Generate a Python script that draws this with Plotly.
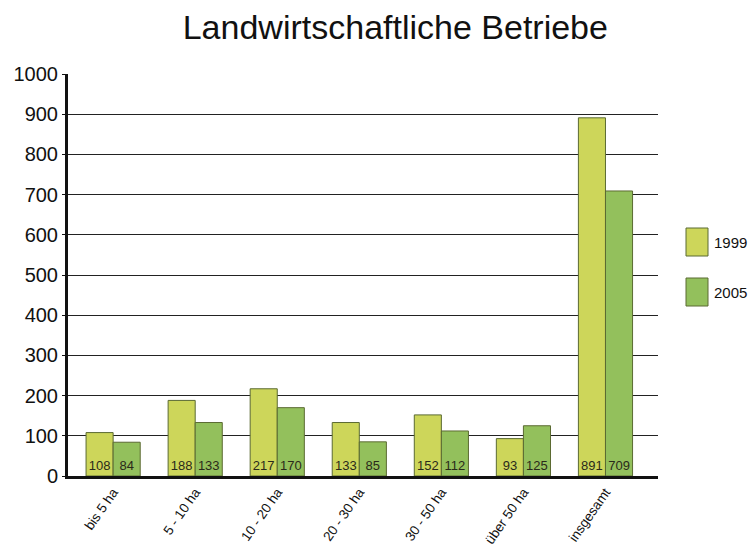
import plotly.graph_objects as go

categories = ["bis 5 ha", "5 - 10 ha", "10 - 20 ha", "20 - 30 ha", "30 - 50 ha", "über 50 ha", "insgesamt"]
values_1999 = [108, 188, 217, 133, 152, 93, 891]
values_2005 = [84, 133, 170, 85, 112, 125, 709]
series_names = ["1999", "2005"]
colors = ["#cdd65a", "#93c05c"]
y_ticks = [0, 100, 200, 300, 400, 500, 600, 700, 800, 900, 1000]

fig = go.Figure()
for name, vals, col in zip(series_names, [values_1999, values_2005], colors):
    fig.add_trace(go.Bar(
        x=categories, y=vals, name=name,
        marker=dict(color=col, line=dict(color="#5b6a32", width=1)),
        text=[str(v) for v in vals], textposition="inside",
        insidetextanchor="start", textangle=0,
        textfont=dict(family="Liberation Sans, Arial", size=13, color="#2a2a1a"),
        cliponaxis=False,
    ))

fig.update_layout(
    width=753, height=549,
    margin=dict(l=68, r=95, t=74, b=73, autoexpand=False),
    paper_bgcolor="white", plot_bgcolor="white",
    barmode="group", bargap=0.34, bargroupgap=0,
    showlegend=False,
    uniformtext=dict(minsize=13, mode="show"),
    title=dict(text="Landwirtschaftliche Betriebe", x=0.525, xanchor="center", y=0.95, yanchor="middle",
               font=dict(family="Liberation Sans, Arial", size=34, color="#111")),
    font=dict(family="Liberation Sans, Arial", color="#111"),
    xaxis=dict(range=[-0.55, 6.64], tickangle=-55, tickfont=dict(size=13.5), automargin=False,
               showline=True, linecolor="#111", linewidth=3, ticks="", showgrid=False),
    yaxis=dict(range=[0, 1000], tickvals=y_ticks, tickfont=dict(size=20), automargin=False,
               showline=True, linecolor="#111", linewidth=3, ticks="outside", ticklen=3,
               tickcolor="#111", showgrid=True, gridcolor="#222", gridwidth=1.3, zeroline=False),
)

# Legend drawn manually with larger swatches
for i, (name, col) in enumerate(zip(series_names, colors)):
    y0 = 1 - (228 - 74 + i * 50) / 402
    y1 = 1 - (256 - 74 + i * 50) / 402
    fig.add_shape(type="rect", xref="paper", yref="paper",
                  x0=(686 - 68) / 590, x1=(708 - 68) / 590, y0=y1, y1=y0,
                  fillcolor=col, line=dict(color="#5b6a32", width=1))
    fig.add_annotation(xref="paper", yref="paper", x=(712 - 68) / 590, y=(y0 + y1) / 2,
                       text=name, showarrow=False, xanchor="left", yanchor="middle",
                       font=dict(family="Liberation Sans, Arial", size=15, color="#111"))

fig.write_html("out.html")
